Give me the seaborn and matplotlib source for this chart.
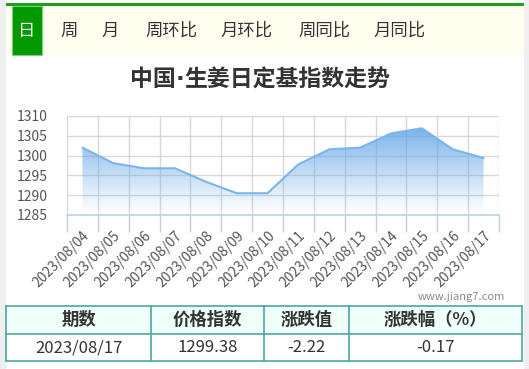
import numpy as np
import pandas as pd
import matplotlib
matplotlib.use("Agg")
import matplotlib.pyplot as plt
import seaborn as sns
from matplotlib.patches import Rectangle
from matplotlib.colors import to_rgb

# ---------------- data ----------------
dates = ["2023/08/04", "2023/08/05", "2023/08/06", "2023/08/07", "2023/08/08",
         "2023/08/09", "2023/08/10", "2023/08/11", "2023/08/12", "2023/08/13",
         "2023/08/14", "2023/08/15", "2023/08/16", "2023/08/17"]
index_values = [1302.0, 1298.1, 1296.8, 1296.8, 1293.4, 1290.5, 1290.5,
                1297.8, 1301.6, 1302.0, 1305.6, 1306.9, 1301.6, 1299.38]
y_ticks = [1285, 1290, 1295, 1300, 1305, 1310]
tabs = ["日", "周", "月", "周环比", "月环比", "周同比", "月同比"]
title_parts = ["中国", "·", "生姜日定基指数走势"]
table_header = ["期数", "价格指数", "涨跌值", "涨跌幅（%）"]
table_row = ["2023/08/17", "1299.38", "-2.22", "-0.17"]
watermark = "www.jiang7.com"

# ---------------- figure ----------------
W, H = 529, 369
sns.set_theme(style="white")
plt.rcParams["font.family"] = ["Noto Sans CJK SC", "DejaVu Sans"]
fig = plt.figure(figsize=(W / 100, H / 100), dpi=100)
fig.patch.set_facecolor("white")


def fx(px):
    return px / W


def fy(py):
    return 1 - py / H


def rect(x0, y0, x1, y1, **kw):
    fig.patches.append(Rectangle((fx(x0), fy(y1)), fx(x1) - fx(x0), fy(y0) - fy(y1),
                                 transform=fig.transFigure, **kw))


# page borders
rect(0, 0, 6, H, facecolor="#efefef", edgecolor="none")
rect(524, 0, W, H, facecolor="#efefef", edgecolor="none")
# tab strip
rect(6, 6, 524, 55, facecolor="#fffff0", edgecolor="none")
rect(6, 3, 524, 6, facecolor="#1e9e1e", edgecolor="none")
rect(12, 6, 42, 55, facecolor="#009900", edgecolor="#7fd07f", linewidth=0.8)

tab_x = [27, 69, 110, 171, 247, 324, 400]
for t, x in zip(tabs, tab_x):
    fig.text(fx(x), fy(31), t, ha="center", va="center", fontsize=12.5,
             color="white" if t == "日" else "#333333")

# title (middle dot drawn narrow, like the original)
renderer = fig.canvas.get_renderer()
fams = [["Noto Sans CJK SC"], ["DejaVu Sans"], ["Noto Sans CJK SC"]]
texts = []
for part, fam in zip(title_parts, fams):
    t = fig.text(0, fy(80), part, ha="left", va="center", fontsize=16.5,
                 fontweight="bold", color="#333333", family=fam)
    texts.append(t)
widths = [t.get_window_extent(renderer).width for t in texts]
x = 260 - sum(widths) / 2
for t, w in zip(texts, widths):
    t.set_x(fx(x))
    x += w

# ---------------- chart ----------------
ax_l, ax_r, ax_t, ax_b = 67, 499, 116, 215
ax = fig.add_axes([fx(ax_l), fy(ax_b), fx(ax_r) - fx(ax_l), fy(ax_t) - fy(ax_b)])
ax.set_facecolor("none")

df = pd.DataFrame({"pos": np.arange(len(dates)), "date": dates, "value": index_values})
line_color = "#7cb5ec"

# gradient area
poly = ax.fill_between(df["pos"], df["value"], y_ticks[0], color="none", linewidth=0)
rgb = to_rgb("#6aa8e8")
grad = np.zeros((256, 2, 4))
alpha = np.linspace(0.95, 0.0, 256) ** 1.1
grad[:, :, 0], grad[:, :, 1], grad[:, :, 2] = rgb
grad[:, :, 3] = alpha[:, None]
img = ax.imshow(grad, extent=[-0.5, len(dates) - 0.5, y_ticks[0], 1308], aspect="auto",
                origin="upper", zorder=1)
img.set_clip_path(poly.get_paths()[0], transform=ax.transData)

sns.lineplot(data=df, x="pos", y="value", ax=ax, color=line_color, linewidth=1.5, zorder=3)

ax.set_xlim(-0.5, len(dates) - 0.5)
ax.set_ylim(y_ticks[0], y_ticks[-1])
ax.set_yticks(y_ticks)
ax.set_yticklabels([str(v) for v in y_ticks])
ax.set_xticks(np.arange(len(dates)))
ax.set_xticklabels(dates, rotation=45, ha="right", rotation_mode="anchor")
ax.set_xticks(np.arange(len(dates) + 1) - 0.5, minor=True)
ax.set_xlabel("")
ax.set_ylabel("")

for v in y_ticks:
    ax.axhline(v, color="#d8d8d8", linewidth=1, zorder=0)
for xv in np.arange(len(dates) + 1) - 0.5:
    ax.axvline(xv, color="#d8d8d8", linewidth=1, zorder=0)

for s in ["top", "right", "left"]:
    ax.spines[s].set_visible(False)
ax.spines["bottom"].set_color("#c0d0e0")
ax.spines["bottom"].set_linewidth(1.2)
ax.spines["bottom"].set_zorder(4)

ax.tick_params(axis="x", which="major", length=0, pad=10, labelsize=10, labelcolor="#555555")
ax.tick_params(axis="x", which="minor", length=12, width=1, color="#c0d0e0", direction="out", bottom=True)
ax.tick_params(axis="y", length=0, pad=14, labelsize=10, labelcolor="#555555")

# watermark
fig.text(fx(505), fy(297), watermark, ha="right", va="center", fontsize=8, color="#888888")

# ---------------- table ----------------
cols = [6, 151, 264, 349, 522]
rows = [306, 334, 361]
border = "#4aa8a0"
rect(cols[0], rows[0], cols[-1], rows[1], facecolor="#effff9", edgecolor="none")
for xv in cols:
    fig.add_artist(plt.Line2D([fx(xv), fx(xv)], [fy(rows[0]), fy(rows[-1])],
                              transform=fig.transFigure, color=border, linewidth=1.2))
for yv in rows:
    fig.add_artist(plt.Line2D([fx(cols[0]), fx(cols[-1])], [fy(yv), fy(yv)],
                              transform=fig.transFigure, color=border, linewidth=1.2))
for i in range(4):
    cx = (cols[i] + cols[i + 1]) / 2
    fig.text(fx(cx), fy(320), table_header[i], ha="center", va="center",
             fontsize=12.5, fontweight="bold", color="#333333")
    fig.text(fx(cx), fy(348), table_row[i], ha="center", va="center",
             fontsize=12, color="#333333")

fig.savefig("out.png", dpi=100)
